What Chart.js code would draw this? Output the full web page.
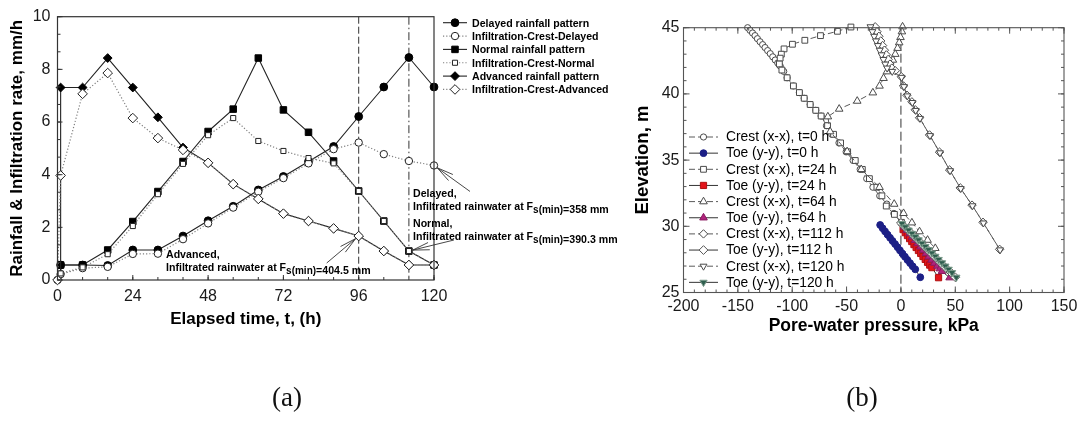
<!DOCTYPE html>
<html>
<head>
<meta charset="utf-8">
<script src="https://cdn.jsdelivr.net/npm/chart.js@4.4.1/dist/chart.umd.min.js"></script>
<style>
  html, body { margin: 0; padding: 0; background: #fff; }
  body { width: 1083px; height: 426px; position: relative; overflow: hidden; }
  canvas { position: absolute; left: 0; top: 0; }
  .cap { position: absolute; top: 382px; font-family: "Liberation Serif", "Times New Roman", serif;
         font-size: 27px; color: #111; transform: translateX(-50%); }
</style>
</head>
<body>
<canvas id="chartA" width="1083" height="426"></canvas>
<canvas id="chartB" width="1083" height="426"></canvas>
<div class="cap" style="left:287px">(a)</div>
<div class="cap" style="left:862px">(b)</div>
<script>
// ---------- (a) rainfall and infiltration rate ----------
const RAIN_HOURS = [1, 1, 8, 16, 24, 32, 40, 48, 56, 64, 72, 80, 88, 96, 104, 112, 120];
const INFIL_HOURS = [0, 1, 8, 16, 24, 32, 40, 48, 56, 64, 72, 80, 88, 96, 104, 112, 120];

const delayedRain   = [0, 0.57, 0.57, 0.55, 1.14, 1.14, 1.67, 2.25, 2.80, 3.42, 3.93, 4.50, 5.07, 6.21, 7.33, 8.45, 7.33];
const normalRain    = [0, 0.57, 0.57, 1.14, 2.22, 3.36, 4.50, 5.64, 6.49, 8.43, 6.46, 5.61, 4.52, 3.38, 2.24, 1.10, 0.57];
const advancedRain  = [0, 7.31, 7.31, 8.43, 7.31, 6.18, 5.03, 4.45, 3.64, 3.08, 2.52, 2.24, 1.96, 1.67, 1.10, 0.57, 0.57];

const delayedInfil  = [0, 0.22, 0.45, 0.50, 0.99, 1.00, 1.55, 2.15, 2.75, 3.35, 3.87, 4.43, 4.97, 5.22, 4.78, 4.52, 4.35];
const normalInfil   = [0, 0.25, 0.48, 0.98, 2.05, 3.26, 4.41, 5.50, 6.15, 5.28, 4.90, 4.63, 4.43, 3.38, 2.24, 1.10, 0.57];
const advancedInfil = [0, 3.97, 7.07, 7.86, 6.15, 5.39, 4.94, 4.45, 3.64, 3.08, 2.52, 2.24, 1.96, 1.67, 1.10, 0.57, 0.57];

const TIME_TICKS = [0, 24, 48, 72, 96, 120];
const RATE_TICKS = [0, 2, 4, 6, 8, 10];
const MARK_HOURS = [96, 112];

// ---------- (b) pore-water pressure profiles: [pressure kPa, elevation m] ----------
const crest0 = [[-141,45],[-138.8,44.8],[-136.5,44.6],[-134.2,44.4],[-132,44.17],[-129.6,43.94],[-127.2,43.72],
  [-125,43.5],[-122.6,43.27],[-120.2,43.04],[-117.9,42.8],[-115.6,42.56],[-113.3,42.33],[-111,42.1],[-107.8,41.7],
  [-104.7,41.22],[-98.9,40.6],[-93.4,40.1],[-89,39.67],[-83.5,39.2],[-78.3,38.76],[-73.4,38.33],[-68.5,37.6],
  [-63.6,36.95],[-57,36.3],[-50.4,35.63],[-44,34.97],[-37.5,34.3],[-31.5,33.6],[-25.8,32.95],[-19.5,32.3],
  [-13,31.68],[-6.5,30.97],[0,30.27]];
const toe0 = [[-19.1,30.1],[-16.8,29.85],[-14.6,29.61],[-12.3,29.37],[-10,29.13],[-7.7,28.89],[-5.4,28.66],
  [-3.1,28.42],[-0.9,28.18],[1.4,27.94],[3.7,27.7],[6,27.46],[8.4,27.22],[10.8,26.98],[13.2,26.75],[17.8,26.15]];
const crest24 = [[-46,45.05],[-58.4,44.73],[-74,44.4],[-88.4,44.05],[-99.8,43.75],[-107.5,43.4],[-110,43],
  [-111.1,42.7],[-111.8,42.26],[-109.5,41.8],[-104.7,41.22],[-98.9,40.6],[-93.4,40.1],[-89,39.67],[-83.5,39.2],
  [-78.3,38.76],[-73.4,38.33],[-67.5,37.6],[-62,36.95],[-55.5,36.3],[-49,35.63],[-42,34.97],[-35.5,34.3],
  [-29,33.6],[-22.1,32.95],[-17.5,32.3],[-13.5,31.53],[-6,30.9],[0.5,30.3]];
const toe24 = [[2,29.75],[4,29.52],[6,29.3],[8,29.07],[10,28.85],[12,28.62],[14,28.4],[16.1,28.17],[18.2,27.95],
  [20.3,27.72],[22.4,27.5],[24.5,27.28],[26.5,27.07],[28.5,26.88],[34.6,26.12]];
const crest64 = [[1.5,45.07],[0.9,44.7],[-0.4,44.27],[-1.6,43.87],[-3.1,43.45],[-5.2,43],[-7.4,42.56],[-9.8,42.1],
  [-12.9,41.68],[-16,41.18],[-19.7,40.6],[-25.8,40.09],[-40.2,39.46],[-56.8,38.86],[-67.2,38.28],[-65.1,37.15],
  [-49.5,35.65],[-36.5,34.3],[-19.7,32.95],[-6.2,31.68],[2.4,30.98],[10.1,30.27],[17.1,29.6],[24.5,28.96],[31.6,28.34]];
const toe64 = [[3,29.95],[5.5,29.7],[8,29.45],[10.5,29.2],[13,28.95],[15.5,28.7],[18,28.45],[20.5,28.2],[23,27.95],
  [25.6,27.7],[28.2,27.46],[30.8,27.22],[33.4,27],[35.8,26.8],[37.7,26.6],[44.8,26.12]];
const crest112 = [[-23.7,45.07],[-22,44.7],[-20.3,44.35],[-18.6,44],[-16.9,43.65],[-15.2,43.3],[-13.5,42.95],
  [-11.8,42.6],[-10.1,42.25],[-8.4,41.95],[-5.2,41.75],[0.3,41.3],[2.4,40.6],[5.5,39.9],[10.1,39.4],[13.2,38.8],
  [17.1,38.2],[26.3,36.9],[35.5,35.6],[44.8,34.25],[54.6,32.9],[65.4,31.6],[75.5,30.3],[90.8,28.26]];
const toe112 = [[0,30.25],[3,30],[6,29.76],[9,29.51],[12,29.26],[15,29.02],[18,28.77],[21,28.52],[24,28.28],
  [27,28.03],[30,27.78],[33,27.54],[36,27.29],[39,27.04],[42,26.8],[45.5,26.55],[50,26.15]];
const crest120 = [[-28,45.07],[-26.3,44.7],[-24.6,44.35],[-22.9,44],[-21.2,43.65],[-19.5,43.3],[-17.8,42.95],
  [-16.1,42.6],[-14.4,42.25],[-12.7,41.95],[-8,41.7],[0.6,41.25],[2.8,40.55],[5.9,39.85],[10.5,39.35],[13.6,38.75],
  [17.5,38.15],[26.7,36.85],[35.9,35.55],[45.2,34.2],[55,32.85],[65.8,31.55],[75.9,30.25],[91.2,28.22]];
const toe120 = [[1,30.2],[4.1,29.95],[7.1,29.71],[10.2,29.46],[13.3,29.21],[16.3,28.97],[19.4,28.72],[22.5,28.47],
  [25.5,28.23],[28.6,27.98],[31.7,27.73],[34.7,27.49],[37.8,27.24],[40.9,26.99],[43.9,26.75],[47,26.5],[51,26.15]];

const PRESSURE_TICKS = [-200, -150, -100, -50, 0, 50, 100, 150];
const ELEVATION_TICKS = [25, 30, 35, 40, 45];

// ---------- shared helpers ----------
const SANS = '"Liberation Sans", Arial, Helvetica, sans-serif';
const H = Chart.helpers;

function pairs(xs, ys) { return xs.map((x, i) => ({ x, y: ys[i] })); }
function pts(list) { return list.map(p => ({ x: p[0], y: p[1] })); }
function hideFirst(n, r) { return Array.from({ length: n }, (_, i) => (i === 0 ? 0 : r)); }

function marker(ctx, ds, x, y, r) {
  ctx.save();
  ctx.setLineDash([]);
  ctx.fillStyle = ds.pointBackgroundColor;
  ctx.strokeStyle = ds.pointBorderColor;
  ctx.lineWidth = ds.pointBorderWidth || 1;
  H.drawPoint(ctx, { pointStyle: ds.pointStyle, radius: r, rotation: ds.pointRotation || 0, borderWidth: ctx.lineWidth }, x, y);
  ctx.restore();
}

function drawTickMarks(ctx, scale, values, len, side, area) {
  values.forEach(v => {
    const p = scale.getPixelForValue(v);
    ctx.beginPath();
    if (side === 'bottom') { ctx.moveTo(p, area.bottom); ctx.lineTo(p, area.bottom - len); }
    if (side === 'top')    { ctx.moveTo(p, area.top);    ctx.lineTo(p, area.top + len); }
    if (side === 'left')   { ctx.moveTo(area.left, p);   ctx.lineTo(area.left + len, p); }
    if (side === 'right')  { ctx.moveTo(area.right, p);  ctx.lineTo(area.right - len, p); }
    ctx.stroke();
  });
}

function stepValues(from, to, step) {
  const out = [];
  for (let v = from; v <= to + 1e-9; v += step) out.push(+v.toFixed(6));
  return out;
}

// ---------- chart (a) ----------
const rainStyle = (label, data, style, r, order) => ({
  label, data: pairs(RAIN_HOURS, data), order,
  borderColor: '#222', borderWidth: 1.1, borderDash: [],
  pointStyle: style, pointRadius: hideFirst(data.length, r), legendRadius: r,
  pointBackgroundColor: '#000', pointBorderColor: '#000', pointBorderWidth: 1,
  showLine: true, clip: false
});
const infilStyle = (label, data, style, r, order) => ({
  label, data: pairs(INFIL_HOURS, data), order,
  borderColor: '#808080', borderWidth: 1.2, borderDash: [1.2, 2],
  pointStyle: style, pointRadius: r, legendRadius: r,
  pointBackgroundColor: '#fff', pointBorderColor: '#222', pointBorderWidth: 1,
  showLine: true, clip: false
});

const datasetsA = [
  rainStyle('Delayed rainfall pattern', delayedRain, 'circle', 3.9, 5),
  infilStyle('Infiltration-Crest-Delayed', delayedInfil, 'circle', 3.7, 2),
  rainStyle('Normal rainfall pattern', normalRain, 'rect', 4.6, 4),
  infilStyle('Infiltration-Crest-Normal', normalInfil, 'rect', 3.6, 1),
  rainStyle('Advanced rainfall pattern', advancedRain, 'rectRot', 4.4, 3),
  infilStyle('Infiltration-Crest-Advanced', advancedInfil, 'rectRot', 4.8, 0)
];

const frameA = {
  id: 'frameA',
  beforeDatasetsDraw(chart) {
    const { ctx, chartArea: a, scales: { x } } = chart;
    ctx.save();
    ctx.strokeStyle = '#333';
    ctx.lineWidth = 1;
    const styles = [[7, 3], [8, 3, 1.5, 3]];
    MARK_HOURS.forEach((h, i) => {
      const px = x.getPixelForValue(h);
      ctx.setLineDash(styles[i]);
      ctx.beginPath(); ctx.moveTo(px, a.top); ctx.lineTo(px, a.bottom); ctx.stroke();
    });
    ctx.restore();
  },
  afterDraw(chart) {
    const { ctx, chartArea: a, scales: { x, y } } = chart;
    ctx.save();
    ctx.strokeStyle = '#333';
    ctx.lineWidth = 1.2;
    ctx.strokeRect(a.left, a.top, a.right - a.left, a.bottom - a.top);
    ctx.lineWidth = 1;
    drawTickMarks(ctx, x, stepValues(0, 120, 8), 3, 'bottom', a);
    drawTickMarks(ctx, x, TIME_TICKS, 5, 'bottom', a);
    drawTickMarks(ctx, y, stepValues(0, 10, 2 / 3), 3, 'left', a);
    drawTickMarks(ctx, y, RATE_TICKS, 5, 'left', a);

    // legend
    chart.data.datasets.forEach((ds, i) => {
      const ly = 22.7 + i * 13.35;
      ctx.save();
      ctx.strokeStyle = ds.borderColor;
      ctx.lineWidth = ds.borderWidth;
      ctx.setLineDash(ds.borderDash);
      ctx.beginPath(); ctx.moveTo(443, ly); ctx.lineTo(467, ly); ctx.stroke();
      ctx.restore();
      marker(ctx, ds, 455, ly, ds.legendRadius);
      ctx.fillStyle = '#000';
      ctx.font = 'bold 10.6px ' + SANS;
      ctx.textBaseline = 'alphabetic';
      ctx.fillText(ds.label, 472, ly + 4);
    });

    // notes with arrows pointing at the minimum-safety-factor points
    const notes = [
      { head: 'Delayed,', value: '=358 mm', tx: 413, ty: 197, at: [120, delayedInfil[16]], tail: [36, 26] },
      { head: 'Normal,', value: '=390.3 mm', tx: 413, ty: 227, at: [112, normalInfil[15]], tail: [45, -11] },
      { head: 'Advanced,', value: '=404.5 mm', tx: 166, ty: 258, at: [96, advancedInfil[13]], tail: [-32, 27] }
    ];
    notes.forEach(n => {
      ctx.fillStyle = '#000';
      ctx.font = 'bold 10.6px ' + SANS;
      ctx.fillText(n.head, n.tx, n.ty);
      const line2 = 'Infiltrated rainwater at F';
      ctx.fillText(line2, n.tx, n.ty + 12.5);
      let cx = n.tx + ctx.measureText(line2).width;
      ctx.font = 'bold 10px ' + SANS;
      ctx.fillText('s(min)', cx, n.ty + 15.5);
      cx += ctx.measureText('s(min)').width;
      ctx.font = 'bold 10.6px ' + SANS;
      ctx.fillText(n.value, cx, n.ty + 15.5);

      const px = x.getPixelForValue(n.at[0]);
      const py = y.getPixelForValue(n.at[1]);
      const ang = Math.atan2(n.tail[1], n.tail[0]);
      const sx = px + Math.cos(ang) * 4, sy = py + Math.sin(ang) * 4;
      ctx.strokeStyle = '#333';
      ctx.lineWidth = 0.9;
      ctx.beginPath();
      ctx.moveTo(sx, sy); ctx.lineTo(px + n.tail[0], py + n.tail[1]);
      [-0.22, 0.22].forEach(d => {
        ctx.moveTo(sx, sy);
        ctx.lineTo(sx + Math.cos(ang + d) * 17, sy + Math.sin(ang + d) * 17);
      });
      ctx.stroke();
    });
    ctx.restore();
  }
};

new Chart(document.getElementById('chartA'), {
  type: 'scatter',
  data: { datasets: datasetsA },
  options: {
    responsive: false, animation: false, events: [],
    layout: { padding: { left: 0, top: 16.7, right: 649, bottom: 86 } },
    plugins: { legend: { display: false }, tooltip: { enabled: false } },
    scales: {
      x: {
        type: 'linear', min: 0, max: 120,
        afterBuildTicks: s => { s.ticks = TIME_TICKS.map(v => ({ value: v })); },
        afterFit: s => { s.height = 60; },
        grid: { display: false, drawTicks: false },
        border: { display: false },
        ticks: { color: '#1a1a1a', font: { family: SANS, size: 16 }, padding: 7, maxRotation: 0 },
        title: { display: true, text: 'Elapsed time, t, (h)', color: '#000',
                 font: { family: SANS, size: 17, weight: 'bold' }, padding: { top: 0, bottom: 10.5 } }
      },
      y: {
        type: 'linear', min: 0, max: 10,
        afterBuildTicks: s => { s.ticks = RATE_TICKS.map(v => ({ value: v })); },
        afterFit: s => { s.width = 57.5; },
        grid: { display: false, drawTicks: false },
        border: { display: false },
        ticks: { color: '#1a1a1a', font: { family: SANS, size: 16 }, padding: 7 },
        title: { display: true, text: 'Rainfall & Infiltration rate, mm/h', color: '#000',
                 font: { family: SANS, size: 17, weight: 'bold' }, padding: { top: 7.3, bottom: 0 } }
      }
    }
  },
  plugins: [frameA]
});

// ---------- chart (b) ----------
const crestStyle = (label, data, style, r, order, rot) => ({
  label, data: pts(data), order,
  borderColor: '#5a5a5a', borderWidth: 1, borderDash: [6, 3],
  pointStyle: style, pointRadius: r, pointRotation: rot || 0, legendRadius: r,
  pointBackgroundColor: '#fff', pointBorderColor: '#4a4a4a', pointBorderWidth: 1,
  showLine: true, clip: false
});
const toeStyle = (label, data, style, r, order, fill, edge, rot) => ({
  label, data: pts(data), order,
  borderColor: '#333', borderWidth: 1, borderDash: [],
  pointStyle: style, pointRadius: r, pointRotation: rot || 0, legendRadius: r,
  pointBackgroundColor: fill, pointBorderColor: edge, pointBorderWidth: 1,
  showLine: true, clip: false
});

const datasetsB = [
  crestStyle('Crest (x-x), t=0 h', crest0, 'circle', 3.1, 9),
  toeStyle('Toe (y-y), t=0 h', toe0, 'circle', 3.4, 4, '#1c1f86', '#1c1f86'),
  crestStyle('Crest (x-x), t=24 h', crest24, 'rect', 4.1, 8),
  toeStyle('Toe (y-y), t=24 h', toe24, 'rect', 4.4, 3, '#e3141b', '#b01010'),
  crestStyle('Crest (x-x), t=64 h', crest64, 'triangle', 4.4, 7),
  toeStyle('Toe (y-y), t=64 h', toe64, 'triangle', 4.4, 2, '#b0237d', '#8a1a60'),
  crestStyle('Crest (x-x), t=112 h', crest112, 'rectRot', 4.2, 6),
  toeStyle('Toe (y-y), t=112 h', toe112, 'rectRot', 4.4, 1, '#fff', '#555'),
  crestStyle('Crest (x-x), t=120 h', crest120, 'triangle', 4.0, 5, 180),
  toeStyle('Toe (y-y), t=120 h', toe120, 'triangle', 4.2, 0, '#2e5e4e', '#7a9a8a', 180)
];

const frameB = {
  id: 'frameB',
  beforeDatasetsDraw(chart) {
    const { ctx, chartArea: a, scales: { x } } = chart;
    const px = x.getPixelForValue(0);
    ctx.save();
    ctx.strokeStyle = '#333';
    ctx.lineWidth = 1;
    ctx.setLineDash([9, 4]);
    ctx.beginPath(); ctx.moveTo(px, a.top); ctx.lineTo(px, a.bottom); ctx.stroke();
    ctx.restore();
  },
  afterDraw(chart) {
    const { ctx, chartArea: a, scales: { x, y } } = chart;
    ctx.save();
    ctx.strokeStyle = '#555';
    ctx.lineWidth = 1.1;
    ctx.strokeRect(a.left, a.top, a.right - a.left, a.bottom - a.top);
    ctx.lineWidth = 1;
    ['bottom', 'top'].forEach(side => {
      drawTickMarks(ctx, x, stepValues(-200, 150, 10), 3, side, a);
      drawTickMarks(ctx, x, PRESSURE_TICKS, 6, side, a);
    });
    ['left', 'right'].forEach(side => {
      drawTickMarks(ctx, y, stepValues(25, 45, 1), 3, side, a);
      drawTickMarks(ctx, y, ELEVATION_TICKS, 6, side, a);
    });

    // legend
    chart.data.datasets.forEach((ds, i) => {
      const ly = 137 + i * 16.15;
      ctx.save();
      ctx.strokeStyle = ds.borderColor;
      ctx.lineWidth = 1;
      ctx.setLineDash(ds.borderDash);
      ctx.beginPath(); ctx.moveTo(689, ly); ctx.lineTo(718, ly); ctx.stroke();
      ctx.restore();
      marker(ctx, ds, 703.5, ly, ds.legendRadius);
      ctx.fillStyle = '#000';
      ctx.font = '13.8px ' + SANS;
      ctx.textBaseline = 'middle';
      ctx.fillText(ds.label, 726, ly + 0.5);
    });
    ctx.restore();
  }
};

new Chart(document.getElementById('chartB'), {
  type: 'scatter',
  data: { datasets: datasetsB },
  options: {
    responsive: false, animation: false, events: [],
    layout: { padding: { left: 615, top: 27.7, right: 19, bottom: 81 } },
    plugins: { legend: { display: false }, tooltip: { enabled: false } },
    scales: {
      x: {
        type: 'linear', min: -200, max: 150,
        afterBuildTicks: s => { s.ticks = PRESSURE_TICKS.map(v => ({ value: v })); },
        afterFit: s => { s.height = 52.5; },
        grid: { display: false, drawTicks: false },
        border: { display: false },
        ticks: { color: '#1a1a1a', font: { family: SANS, size: 16 }, padding: 4, maxRotation: 0 },
        title: { display: true, text: 'Pore-water pressure, kPa', color: '#000',
                 font: { family: SANS, size: 17.5, weight: 'bold' }, padding: { top: 0, bottom: 8.5 } }
      },
      y: {
        type: 'linear', min: 25, max: 45,
        afterBuildTicks: s => { s.ticks = ELEVATION_TICKS.map(v => ({ value: v })); },
        afterFit: s => { s.width = 68.5; },
        grid: { display: false, drawTicks: false },
        border: { display: false },
        ticks: { color: '#1a1a1a', font: { family: SANS, size: 16 }, padding: 4 },
        title: { display: true, text: 'Elevation, m', color: '#000',
                 font: { family: SANS, size: 18.5, weight: 'bold' }, padding: { top: 16.9, bottom: 0 } }
      }
    }
  },
  plugins: [frameB]
});
</script>
</body>
</html>
